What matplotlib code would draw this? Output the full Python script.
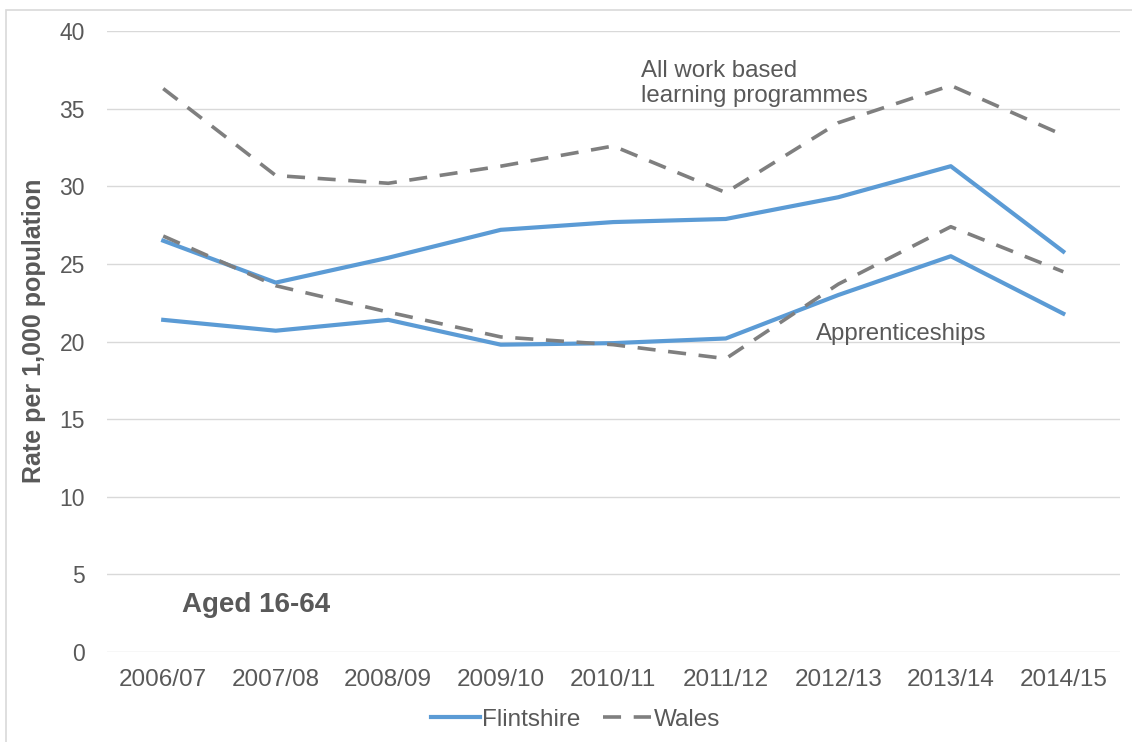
import matplotlib.pyplot as plt
from matplotlib.patches import Rectangle

plt.rcParams['font.family'] = ['Liberation Sans', 'DejaVu Sans']

years = ["2006/07", "2007/08", "2008/09", "2009/10", "2010/11",
         "2011/12", "2012/13", "2013/14", "2014/15"]

flint_all = [26.5, 23.8, 25.4, 27.2, 27.7, 27.9, 29.3, 31.3, 25.8]
flint_app = [21.4, 20.7, 21.4, 19.8, 19.9, 20.2, 23.0, 25.5, 21.8]
wales_all = [36.3, 30.7, 30.2, 31.3, 32.6, 29.6, 34.1, 36.5, 33.3]
wales_app = [26.8, 23.6, 21.9, 20.3, 19.8, 18.9, 23.7, 27.4, 24.5]

blue = "#5B9BD5"
grey = "#7F7F7F"
txt = "#595959"

fig = plt.figure(figsize=(11.32, 7.42), dpi=100)
ax = fig.add_axes([0.0945, 0.1213, 0.8945, 0.8367])
fig.patches.append(Rectangle((0.005, -0.01), 1.0, 0.997, transform=fig.transFigure,
                             fill=False, edgecolor="#D9D9D9", linewidth=1.2))

x = range(len(years))
ax.plot(x, flint_all, color=blue, linewidth=3, label="Flintshire")
ax.plot(x, flint_app, color=blue, linewidth=3)
ax.plot(x, wales_all, color=grey, linewidth=2.6, dashes=(5, 3.5), label="Wales")
ax.plot(x, wales_app, color=grey, linewidth=2.6, dashes=(5, 3.5))

ax.set_xlim(-0.5, 8.5)
ax.set_ylim(0, 40)
ax.set_yticks(range(0, 41, 5))
ax.set_xticks(list(x))
ax.set_xticklabels(years)
ax.grid(axis='y', color="#D9D9D9", linewidth=1)
ax.set_axisbelow(True)
for s in ax.spines.values():
    s.set_visible(False)
ax.tick_params(length=0, colors=txt)
ax.tick_params(axis='x', labelsize=17.5, pad=12)
ax.tick_params(axis='y', labelsize=16.5, pad=16)

ax.set_ylabel("Rate per 1,000 population", fontsize=18, fontweight='bold', color=txt)
ax.yaxis.set_label_coords(-0.060, 0.518)

ax.text(4.25, 35.1, "All work based\nlearning programmes", fontsize=17.3, color=txt,
        linespacing=1.2, va='bottom')
ax.text(5.80, 19.8, "Apprenticeships", fontsize=17.3, color=txt, va='bottom')
ax.text(0.17, 3.0, "Aged 16-64", fontsize=20, fontweight='bold', color=txt, va='center')

ax.legend(loc='center', bbox_to_anchor=(0.463, -0.109), ncol=2, frameon=False,
          fontsize=17.5, labelcolor=txt, handlelength=2.0, columnspacing=0.9, handletextpad=0.1)

fig.savefig("out.png", dpi=100)
